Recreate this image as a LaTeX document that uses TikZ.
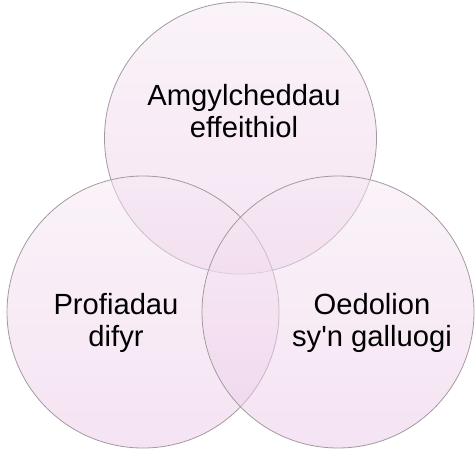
\documentclass[tikz,border=0pt]{standalone}
\usepackage{fontspec}
\setmainfont{Liberation Sans}[Ligatures=TeXOff]
\definecolor{petaltop}{HTML}{F6E8F3}
\definecolor{petalbot}{HTML}{EBC8E7}
\definecolor{rim}{HTML}{A39AA1}
\begin{document}
\begin{tikzpicture}[x=1bp,y=-1bp,
  petal/.style={top color=petaltop, bottom color=petalbot, fill opacity=0.5,
                draw=rim, line width=0.8bp},
  label/.style={align=center, font=\fontsize{29.3}{31.5}\selectfont, text=black, inner sep=0pt}]
  \useasboundingbox (0,0) rectangle (475,454);
  % three overlapping circles
  \path[petal] (240.5,138) circle[radius=136];
  \path[petal] (143,312) circle[radius=136];
  \path[petal] (338,312) circle[radius=136];
  % labels
  \node[label] (env) at (244,111) {Amgylcheddau\\effeithiol};
  \node[label] (exp) at (116,323) {Profiadau\\difyr};
  \node[label] (adu) at (372,323) {Oedolion\\sy'n galluogi};
\end{tikzpicture}
\end{document}
